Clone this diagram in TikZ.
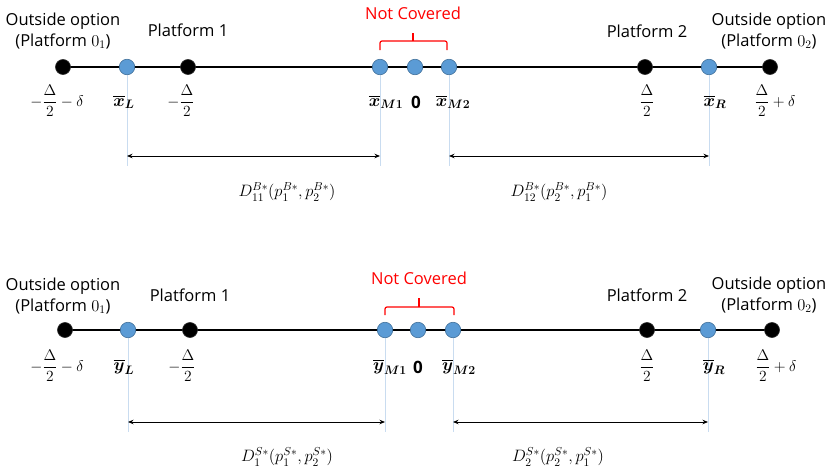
\documentclass[tikz,border=0pt]{standalone}
\usepackage{fix-cm}
\usepackage{amsmath}
\usepackage{bm}
\usepackage[no-math]{fontspec}
\setmainfont{Open Sans}
\usetikzlibrary{backgrounds,arrows.meta}
\definecolor{dotblue}{HTML}{5B9BD5}
\definecolor{dotedge}{HTML}{41719C}
\definecolor{guideblue}{HTML}{C9DCF0}
\definecolor{ncred}{HTML}{FF0000}
\begin{document}
\begin{tikzpicture}[x=1pt,y=-1pt,
  bdot/.style={circle,fill=black,draw=black!85,line width=0.6pt,minimum size=15pt,inner sep=0pt},
  udot/.style={circle,fill=dotblue,draw=dotedge,line width=0.6pt,minimum size=15.5pt,inner sep=0pt},
  lbl/.style={font=\fontsize{16.5}{21}\selectfont,align=center,inner sep=0pt},
  mlbl/.style={font=\fontsize{15.5}{18}\selectfont,inner sep=0pt},
  xlbl/.style={font=\fontsize{17.5}{20}\selectfont,inner sep=0pt},
  zlbl/.style={font=\fontsize{17}{20}\selectfont\bfseries,inner sep=0pt},
  dlbl/.style={font=\fontsize{16.5}{19}\selectfont,inner sep=0pt},
  axisline/.style={line width=2.8pt,black},
  guide/.style={draw=guideblue,line width=0.6pt},
  dimarrow/.style={draw=black,line width=1pt,{Stealth[length=5.5pt,width=4.5pt]}-{Stealth[length=5.5pt,width=4.5pt]}},
  ncbrace/.style={draw=ncred,line width=1.2pt,rounded corners=2pt}]
\useasboundingbox (0,0) rectangle (831,471);

% ---------------- Row 1 ----------------
\node[bdot] (a1) at (63,67) {};
\node[udot] (a2) at (127,67) {};
\node[bdot] (a3) at (188,67) {};
\node[udot] (a4) at (380,67) {};
\node[udot] (a5) at (415,67) {};
\node[udot] (a6) at (449,67) {};
\node[bdot] (a7) at (645,67) {};
\node[udot] (a8) at (709,67) {};
\node[bdot] (a9) at (770,67) {};
\begin{scope}[on background layer]
  \draw[axisline] (a1.center) -- (a9.center);
  \coordinate (ga2) at (127,166);
  \coordinate (ga4) at (380,166);
  \coordinate (ga6) at (449,166);
  \coordinate (ga8) at (709,166);
  \draw[guide] (a2.south) -- (ga2);
  \draw[guide] (a4.south) -- (ga4);
  \draw[guide] (a6.south) -- (ga6);
  \draw[guide] (a8.south) -- (ga8);
\end{scope}
\coordinate (da1) at (127,156);
\coordinate (da2) at (380,156);
\coordinate (da3) at (449,156);
\coordinate (da4) at (709,156);
\draw[dimarrow] (da1) -- (da2);
\draw[dimarrow] (da3) -- (da4);

\node[lbl] (ta1) at (63,31) {Outside option\\(Platform $0_1$)};
\node[lbl] (ta2) at (188,30) {Platform 1};
\node[lbl,text=ncred] (ta3) at (413,13) {Not Covered};
\node[lbl] (ta4) at (647,31) {Platform 2};
\node[lbl] (ta5) at (769,31) {Outside option\\(Platform $0_2$)};

\coordinate (ba1) at (380,50);
\coordinate (ba2) at (413,33);
\coordinate (ba3) at (447,50);
\draw[ncbrace] (ba1) |- (413,41) -| (ba3);
\draw[ncbrace] (413,41) -- (ba2);

\node[mlbl] (ma1) at (57,101) {$-\dfrac{\Delta}{2}-\delta$};
\node[xlbl] (ma2) at (124,102) {$\overline{\bm{x}}_{\bm{L}}$};
\node[mlbl] (ma3) at (181,101) {$-\dfrac{\Delta}{2}$};
\node[xlbl] (ma4) at (386,102) {$\overline{\bm{x}}_{\bm{M1}}$};
\node[zlbl] (ma5) at (416,102) {0};
\node[xlbl] (ma6) at (453,102) {$\overline{\bm{x}}_{\bm{M2}}$};
\node[mlbl] (ma7) at (647,101) {$\dfrac{\Delta}{2}$};
\node[xlbl] (ma8) at (715,102) {$\overline{\bm{x}}_{\bm{R}}$};
\node[mlbl] (ma9) at (775,101) {$\dfrac{\Delta}{2}+\delta$};

\node[dlbl] (la1) at (287,192) {$D_{11}^{B*}(p_1^{B*},p_2^{B*})$};
\node[dlbl] (la2) at (559,192) {$D_{12}^{B*}(p_2^{B*},p_1^{B*})$};

% ---------------- Row 2 ----------------
\node[bdot] (b1) at (65,330) {};
\node[udot] (b2) at (128,330) {};
\node[bdot] (b3) at (190,330) {};
\node[udot] (b4) at (385,330) {};
\node[udot] (b5) at (418,330) {};
\node[udot] (b6) at (453,330) {};
\node[bdot] (b7) at (647,330) {};
\node[udot] (b8) at (708,330) {};
\node[bdot] (b9) at (772,330) {};
\begin{scope}[on background layer]
  \draw[axisline] (b1.center) -- (b9.center);
  \coordinate (gb2) at (128,432);
  \coordinate (gb4) at (385,432);
  \coordinate (gb6) at (453,432);
  \coordinate (gb8) at (708,432);
  \draw[guide] (b2.south) -- (gb2);
  \draw[guide] (b4.south) -- (gb4);
  \draw[guide] (b6.south) -- (gb6);
  \draw[guide] (b8.south) -- (gb8);
\end{scope}
\coordinate (db1) at (128,422);
\coordinate (db2) at (385,422);
\coordinate (db3) at (453,422);
\coordinate (db4) at (708,422);
\draw[dimarrow] (db1) -- (db2);
\draw[dimarrow] (db3) -- (db4);

\node[lbl] (tb1) at (63,296) {Outside option\\(Platform $0_1$)};
\node[lbl] (tb2) at (190,295) {Platform 1};
\node[lbl,text=ncred] (tb3) at (419,278) {Not Covered};
\node[lbl] (tb4) at (647,295) {Platform 2};
\node[lbl] (tb5) at (769,295) {Outside option\\(Platform $0_2$)};

\coordinate (bb1) at (385,315);
\coordinate (bb2) at (419,298);
\coordinate (bb3) at (454,315);
\draw[ncbrace] (bb1) |- (419,307) -| (bb3);
\draw[ncbrace] (419,307) -- (bb2);

\node[mlbl] (mb1) at (57,366) {$-\dfrac{\Delta}{2}-\delta$};
\node[xlbl] (mb2) at (124,367) {$\overline{\bm{y}}_{\bm{L}}$};
\node[mlbl] (mb3) at (182,366) {$-\dfrac{\Delta}{2}$};
\node[xlbl] (mb4) at (390,367) {$\overline{\bm{y}}_{\bm{M1}}$};
\node[zlbl] (mb5) at (418,367) {0};
\node[xlbl] (mb6) at (459,367) {$\overline{\bm{y}}_{\bm{M2}}$};
\node[mlbl] (mb7) at (647,366) {$\dfrac{\Delta}{2}$};
\node[xlbl] (mb8) at (714,367) {$\overline{\bm{y}}_{\bm{R}}$};
\node[mlbl] (mb9) at (776,366) {$\dfrac{\Delta}{2}+\delta$};

\node[dlbl] (lb1) at (287,457) {$D_{1}^{S*}(p_1^{S*},p_2^{S*})$};
\node[dlbl] (lb2) at (558,457) {$D_{2}^{S*}(p_2^{S*},p_1^{S*})$};
\end{tikzpicture}
\end{document}
